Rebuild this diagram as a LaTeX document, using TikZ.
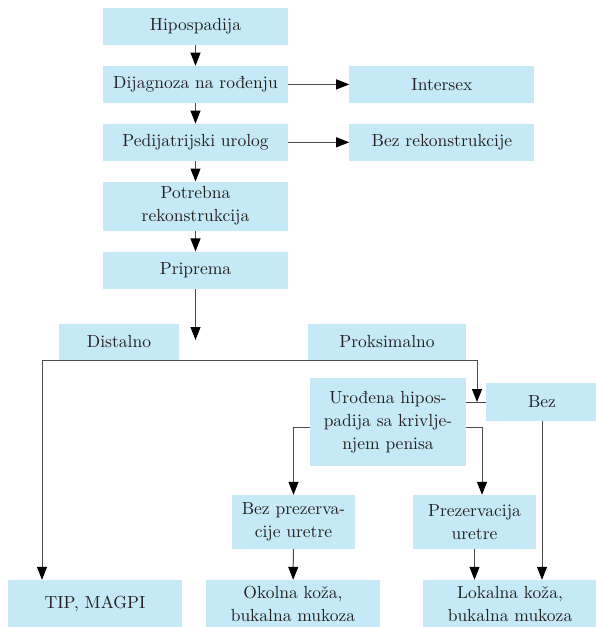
\documentclass[tikz,border=0pt]{standalone}
\usepackage{fontspec}
\setmainfont{lmroman10-regular.otf}
\usepackage{xcolor}
\usepackage{tikz}
\usetikzlibrary{arrows.meta, positioning}

\definecolor{boxblue}{HTML}{C6E9F8}
\definecolor{textdark}{HTML}{231F20}
\definecolor{linegray}{HTML}{4A4A4A}

\begin{document}
\begin{tikzpicture}[
x=1pt, y=-1pt,
node distance = 20.5pt and 61pt,
box/.style = {fill=boxblue, text=textdark, align=center, inner sep=0pt,
              font=\fontsize{17.5}{23}\selectfont},
arr/.style = {draw=linegray, line width=1pt,
              -{Triangle[length=13pt, width=10pt, color=black]}},
line/.style = {draw=linegray, line width=1pt},
                        ]
\useasboundingbox (0,0) rectangle (595,627);
% main column
\node (hipo)   [box, minimum width=185, minimum height=37] at (195.5,26.5) {Hipospadija};
\node (dijag)  [box, minimum width=185, minimum height=37, below=of hipo]   {Dijagnoza na rođenju};
\node (pedi)   [box, minimum width=185, minimum height=37, below=of dijag]  {Pedijatrijski urolog};
\node (potr)   [box, minimum width=185, minimum height=49, below=of pedi]   {Potrebna\\rekonstrukcija};
\node (prip)   [box, minimum width=185, minimum height=37, below=of potr]   {Priprema};
\node (inter)  [box, minimum width=185, minimum height=37, right=of dijag]  {Intersex};
\node (bezrek) [box, minimum width=185, minimum height=37, right=of pedi]   {Bez rekonstrukcije};
% branches
\node (dist)   [box, minimum width=120, minimum height=36] at (119,342)   {Distalno};
\node (prox)   [box, minimum width=158, minimum height=36] at (387,342)   {Proksimalno};
\node (urod)   [box, minimum width=156, minimum height=88] at (388,422)
               {Urođena hipos-\\padija sa krivlje-\\njem penisa};
\node (bez)    [box, minimum width=112, minimum height=38] at (542,402)   {Bez};
\node (bezprez)[box, minimum width=123, minimum height=54] at (293.5,522) {Bez prezerva-\\cije uretre};
\node (prez)   [box, minimum width=123, minimum height=54] at (474.5,522) {Prezervacija\\uretre};
\node (tip)    [box, minimum width=174, minimum height=48] at (95,604)    {TIP, MAGPI};
\node (okol)   [box, minimum width=174, minimum height=48] at (293,604)   {Okolna koža,\\bukalna mukoza};
\node (lok)    [box, minimum width=174, minimum height=48] at (510,604)   {Lokalna koža,\\bukalna mukoza};

\coordinate (end)  at (195.5,340);
\coordinate (barL) at (42,360);
\coordinate (barR) at (477,360);

\draw[arr] (hipo) -- (dijag);
\draw[arr] (dijag) -- (pedi);
\draw[arr] (pedi) -- (potr);
\draw[arr] (potr) -- (prip);
\draw[arr] (dijag) -- (inter);
\draw[arr] (pedi) -- (bezrek);
\draw[arr] (prip) -- (end);

\draw[line] (urod.east |- bez.west) -- (bez.west);
\draw[arr] (barL) -- (barR) -- (barR |- bez.west);
\draw[arr] (barL) -- (barL |- tip.north);
\draw[arr] ([yshift=-5]urod.west) -| (bezprez.north);
\draw[arr] ([yshift=-5]urod.east) -| ([xshift=7.5]prez.north);
\draw[arr] (bezprez) -- (okol);
\draw[arr] (prez.south) -- (prez.south |- lok.north);
\draw[arr] (bez.south) -- (bez.south |- lok.north);
\end{tikzpicture}
\end{document}
